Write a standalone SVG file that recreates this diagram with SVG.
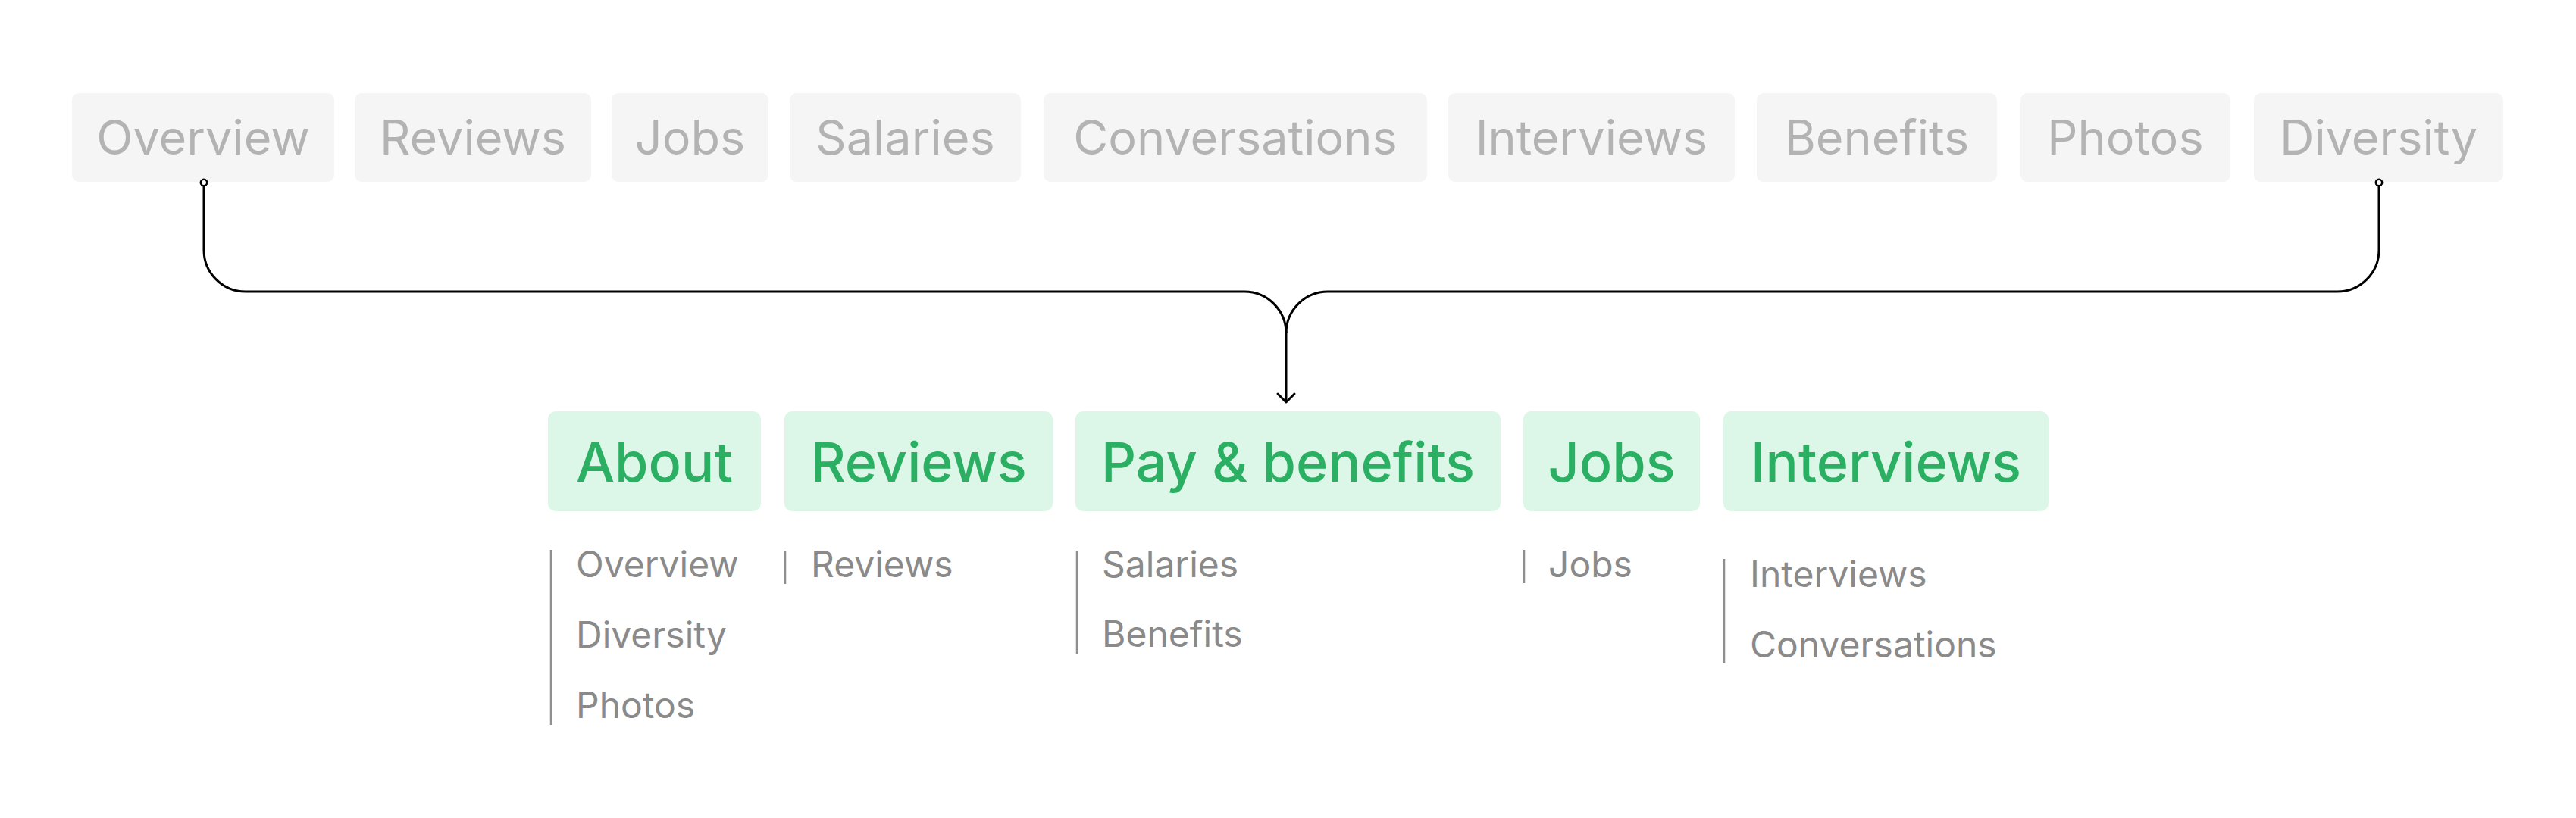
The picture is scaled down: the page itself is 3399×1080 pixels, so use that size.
<svg xmlns="http://www.w3.org/2000/svg" width="3399" height="1080" viewBox="0 0 3399 1080">
<style>
.tb{fill:#f5f5f5}
.tt{font-family:Inter,"Noto Sans",sans-serif;font-size:63px;fill:#b3b3b3;text-anchor:middle}
.gb{fill:#dcf7e8}
.gt{font-family:Inter,"Noto Sans",sans-serif;font-size:72px;font-weight:500;fill:#2bb063;text-anchor:middle}
.st{font-family:Inter,"Noto Sans",sans-serif;font-size:48px;fill:#8a8a8a}
.sl{stroke:#8f8f8f;stroke-width:2.5;fill:none}
.cn{stroke:#000;stroke-width:3;fill:none}
</style>
<defs>
<marker id="dot" viewBox="-8 -8 16 16" refX="0" refY="0" markerWidth="16" markerHeight="16" markerUnits="userSpaceOnUse" orient="auto">
<circle cx="0" cy="0" r="4.2" fill="#fff" stroke="#000" stroke-width="2.5"/>
</marker>
<marker id="arrow" viewBox="-15 -15 30 30" refX="0" refY="0" markerWidth="30" markerHeight="30" markerUnits="userSpaceOnUse" orient="auto">
<path d="M-11,-11 L0,0 L-11,11" fill="none" stroke="#000" stroke-width="3" stroke-linecap="round" stroke-linejoin="round"/>
</marker>
</defs>
<rect width="3399" height="1080" fill="#fff"/>

<g id="top-overview"><rect class="tb" x="95" y="123" width="346" height="117" rx="9"/><text class="tt" x="268" y="204">Overview</text></g>
<g id="top-reviews"><rect class="tb" x="468" y="123" width="312" height="117" rx="9"/><text class="tt" x="624" y="204">Reviews</text></g>
<g id="top-jobs"><rect class="tb" x="807" y="123" width="207" height="117" rx="9"/><text class="tt" x="910.5" y="204">Jobs</text></g>
<g id="top-salaries"><rect class="tb" x="1042" y="123" width="305" height="117" rx="9"/><text class="tt" x="1194.5" y="204">Salaries</text></g>
<g id="top-conversations"><rect class="tb" x="1377" y="123" width="506" height="117" rx="9"/><text class="tt" x="1630" y="204">Conversations</text></g>
<g id="top-interviews"><rect class="tb" x="1911" y="123" width="378" height="117" rx="9"/><text class="tt" x="2100" y="204">Interviews</text></g>
<g id="top-benefits"><rect class="tb" x="2318" y="123" width="317" height="117" rx="9"/><text class="tt" x="2476.5" y="204">Benefits</text></g>
<g id="top-photos"><rect class="tb" x="2666" y="123" width="277" height="117" rx="9"/><text class="tt" x="2804.5" y="204">Photos</text></g>
<g id="top-diversity"><rect class="tb" x="2974" y="123" width="329" height="117" rx="9"/><text class="tt" x="3138.5" y="204">Diversity</text></g>

<g id="connectors">
<path class="cn" d="M269,241 V330 A55,55 0 0 0 324,385 H1642 A55,55 0 0 1 1697,440" marker-start="url(#dot)"/>
<path class="cn" d="M3139,241 V330 A55,55 0 0 1 3084,385 H1752 A55,55 0 0 0 1697,440" marker-start="url(#dot)"/>
<path class="cn" d="M1697,438 V531" marker-end="url(#arrow)"/>
</g>

<g id="about">
<rect class="gb" x="723" y="543" width="281" height="132" rx="10"/>
<text class="gt" x="863.5" y="636">About</text>
<line class="sl" x1="727" y1="726" x2="727" y2="957"/>
<text class="st" x="760" y="762">Overview</text>
<text class="st" x="760" y="855">Diversity</text>
<text class="st" x="760" y="948">Photos</text>
</g>
<g id="reviews">
<rect class="gb" x="1035" y="543" width="354" height="132" rx="10"/>
<text class="gt" x="1212" y="636">Reviews</text>
<line class="sl" x1="1036" y1="727" x2="1036" y2="771"/>
<text class="st" x="1070" y="762">Reviews</text>
</g>
<g id="pay-benefits">
<rect class="gb" x="1419" y="543" width="561" height="132" rx="10"/>
<text class="gt" x="1699.5" y="636">Pay &amp; benefits</text>
<line class="sl" x1="1421" y1="727" x2="1421" y2="863"/>
<text class="st" x="1454" y="762">Salaries</text>
<text class="st" x="1454" y="854">Benefits</text>
</g>
<g id="jobs">
<rect class="gb" x="2010" y="543" width="233" height="132" rx="10"/>
<text class="gt" x="2126.5" y="636">Jobs</text>
<line class="sl" x1="2011" y1="726" x2="2011" y2="770"/>
<text class="st" x="2043" y="762">Jobs</text>
</g>
<g id="interviews">
<rect class="gb" x="2274" y="543" width="429" height="132" rx="10"/>
<text class="gt" x="2488.5" y="636">Interviews</text>
<line class="sl" x1="2275" y1="738" x2="2275" y2="875"/>
<text class="st" x="2309" y="775">Interviews</text>
<text class="st" x="2309" y="868">Conversations</text>
</g>
</svg>
